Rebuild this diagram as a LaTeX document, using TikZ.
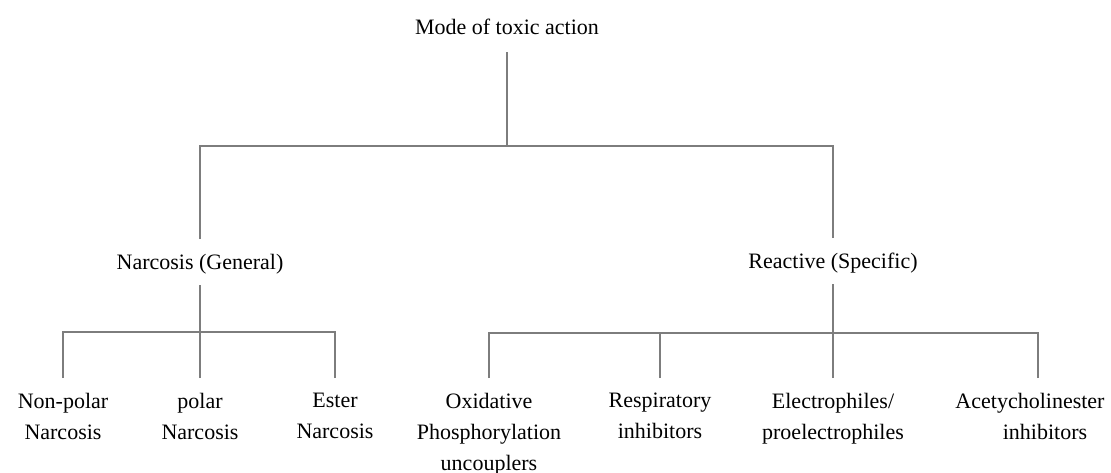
\documentclass[tikz,border=0pt]{standalone}
\usepackage{fontspec}
\setmainfont{Liberation Serif}
\usepackage{tikz}
\usepackage{xcolor}
\definecolor{treegray}{RGB}{125,125,125}
\tikzset{
  rootnode/.style={inner sep=0pt,outer ysep=9pt,text depth=0pt,anchor=base},
  groupnode/.style={inner sep=0pt,outer ysep=8pt,text height=7pt,text depth=0pt,anchor=base},
  leafnode/.style={inner sep=0pt,outer ysep=7.5pt,align=center,anchor=north},
  treeline/.style={draw=treegray,line width=1pt}
}

\begin{document}
\begin{tikzpicture}[x=0.5pt,y=-0.5pt,font=\fontsize{11}{15.5}\selectfont]
  \useasboundingbox (0,0) rectangle (1111,472);
  \node[rootnode] (mode) at (507,34) {Mode of toxic action};
  \node[groupnode] (narc) at (200,269) {Narcosis (General)};
  \node[groupnode] (react) at (833,268) {Reactive (Specific)};
  \coordinate (jtop) at (507,146);
  \coordinate (jnarc) at (200,332);
  \coordinate (jreact) at (833,333);
  \node[leafnode] (nonpolar) at (63,378) {Non-polar\\Narcosis};
  \node[leafnode] (polar) at (200,378) {polar\\Narcosis};
  \node[leafnode] (ester) at (335,378) {Ester\\Narcosis};
  \node[leafnode] (oxid) at (489,378) {Oxidative\\Phosphorylation\\uncouplers};
  \node[leafnode] (resp) at (660,378) {Respiratory\\inhibitors};
  \node[leafnode] (electro) at (833,378) {Electrophiles/\\proelectrophiles};
  \node[leafnode] (acety) at (1030,378) {Acetycholinester\\\hspace*{15pt}inhibitors};
  \draw[treeline] (mode.south) -- (jtop);
  \draw[treeline] (narc.north) |- (jtop);
  \draw[treeline] (react.north) |- (jtop);
  \draw[treeline] (narc.south) -- (jnarc);
  \draw[treeline] (nonpolar.north) |- (jnarc);
  \draw[treeline] (polar.north) -- (jnarc);
  \draw[treeline] (ester.north) |- (jnarc);
  \draw[treeline] (react.south) -- (jreact);
  \draw[treeline] (oxid.north) |- (jreact);
  \draw[treeline] (resp.north) |- (jreact);
  \draw[treeline] (electro.north) -- (jreact);
  \draw[treeline] ([xshift=4pt]acety.north) |- (jreact);
\end{tikzpicture}
\end{document}
